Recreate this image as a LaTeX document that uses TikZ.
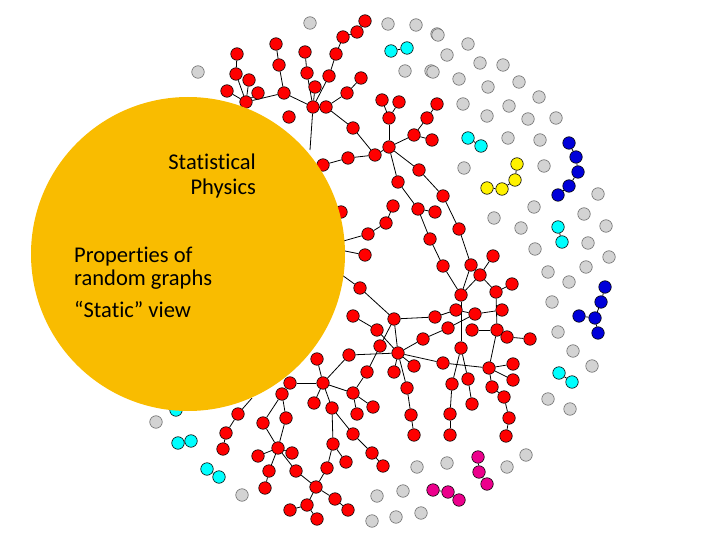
\documentclass[tikz,border=0pt]{standalone}
\usepackage{fontspec}
\setmainfont[Ligatures=NoCommon]{Carlito}
\usetikzlibrary{backgrounds}
\definecolor{gold}{HTML}{F9BC00}
\definecolor{grayfill}{HTML}{D3D3D3}
\definecolor{grayline}{HTML}{6A6A6A}
\definecolor{cyanv}{HTML}{00FFFF}
\tikzset{
  vtx/.style={circle,inner sep=0pt,minimum size=12.5pt,draw=black,line width=0.6pt},
  rn/.style={vtx,fill=red},
  gn/.style={vtx,fill=grayfill,draw=grayline},
  cn/.style={vtx,fill=cyanv},
  yn/.style={vtx,fill=yellow},
  bn/.style={vtx,fill=blue!85!black},
  mn/.style={vtx,fill=magenta},
  edge/.style={line width=0.8pt,black},
  lbl/.style={font=\fontsize{22.5}{24}\selectfont,inner sep=0pt}
}
\begin{document}
\begin{tikzpicture}[x=1pt,y=-1pt]
\useasboundingbox (0,0) rectangle (720,540);
% red nodes
\foreach \x/\y in {365/21,357/32,343/37,336/54,329/76,305/52,307/73,315/87,313/107,326/107,276/44,279/65,284/93,237/54,236/74,249/80,258/93,227/91,246/102,361/78,347/93,289/117,353/128,348/158,375/155,389/147,389/118,382/100,399/102,414/135,427/118,437/104,432/140,419/170,398/182,443/196,393/206,418/209,435/212,341/212,
386/223,368/234,365/255,430/239,459/229,443/266,471/265,493/256,480/275,461/295,496/292,512/284,360/288,353/316,394/319,435/317,456/310,475/314,502/310,448/328,472/330,497/330,507/337,530/339,377/330,380/346,398/353,423/339,461/348,443/363,489/368,513/364,513/380,349/355,317/359,367/372,394/372,414/366,323/383,353/393,407/388,452/384,468/379,492/387,504/397,
290/383,282/394,314/403,332/408,357/414,373/407,411/415,414/435,450/414,450/435,472/404,509/418,506/436,238/414,226/433,223/449,263/423,286/418,278/448,258/456,292/453,269/471,265/488,296/471,333/444,346/462,353/434,372/453,383/466,327/468,316/487,335/499,348/510,307/505,290/510,317/519,323/165}
  \node[rn] (r\x-\y) at (\x,\y) {};
% gray nodes
\foreach \x/\y in {310/23,388/24,416/25,437/34,198/72,405/71,431/71,438/35,468/44,447/55,433/72,480/63,503/65,459/79,488/87,519/82,539/97,463/104,509/106,487/116,528/119,556/118,508/138,540/140,464/168,544/166,598/194,534/207,494/218,521/228,584/214,606/226,535/249,588/243,609/257,548/272,586/267,569/282,552/302,558/332,573/351,592/366,548/399,570/409,156/422,242/495,417/467,447/463,507/467,526/455,377/496,403/491,372/521,396/517,421/513}
  \node[gn] (r\x-\y) at (\x,\y) {};
\foreach \x/\y in {391/51,407/48,468/138,481/146,558/227,562/242,559/373,572/382,178/443,191/441,207/469,219/477,176/410}
  \node[cn] (r\x-\y) at (\x,\y) {};
\foreach \x/\y in {517/164,515/180,502/189,487/188}
  \node[yn] (r\x-\y) at (\x,\y) {};
\foreach \x/\y in {569/143,576/157,578/172,569/186,558/195,605/287,601/302,595/318,579/316,598/333}
  \node[bn] (r\x-\y) at (\x,\y) {};
\foreach \x/\y in {478/457,479/472,487/484,433/490,448/492,459/500}
  \node[mn] (r\x-\y) at (\x,\y) {};
\coordinate (h1) at (310,150);
\coordinate (h2) at (335,270);
\coordinate (h3) at (340,250);
\coordinate (h4) at (340,242);
\coordinate (h5) at (252,398);
\begin{scope}[on background layer]
\foreach \a/\b in {365-21/357-32,357-32/343-37,343-37/336-54,336-54/329-76,329-76/313-107,305-52/307-73,307-73/313-107,315-87/313-107,313-107/326-107,313-107/284-93,284-93/279-65,279-65/276-44,284-93/246-102,246-102/227-91,246-102/258-93,246-102/249-80,246-102/236-74,236-74/237-54,326-107/347-93,347-93/361-78,326-107/353-128,353-128/375-155,375-155/389-147,375-155/348-158,348-158/323-165,389-147/389-118,389-118/382-100,389-118/399-102,389-147/414-135,414-135/427-118,427-118/437-104,414-135/432-140,389-147/419-170,419-170/443-196,389-147/398-182,398-182/418-209,418-209/435-212,393-206/386-223,386-223/368-234,
443-196/459-229,459-229/471-265,471-265/461-295,418-209/430-239,430-239/443-266,443-266/461-295,480-275/461-295,480-275/493-256,480-275/496-292,496-292/512-284,496-292/497-330,461-295/461-348,456-310/475-314,475-314/502-310,435-317/456-310,394-319/435-317,448-328/475-314,448-328/423-339,472-330/497-330,497-330/507-337,507-337/530-339,497-330/489-368,360-288/394-319,353-316/377-330,377-330/398-353,394-319/398-353,380-346/394-319,398-353/423-339,398-353/443-363,443-363/489-368,398-353/414-366,398-353/394-372,398-353/407-388,407-388/411-415,411-415/414-435,349-355/398-353,349-355/323-383,317-359/323-383,367-372/380-346,367-372/353-393,353-393/357-414,353-393/373-407,323-383/353-393,323-383/290-383,323-383/314-403,323-383/332-408,332-408/333-444,332-408/353-434,353-434/372-453,372-453/383-466,333-444/346-462,333-444/327-468,327-468/316-487,316-487/335-499,335-499/348-510,316-487/307-505,307-505/317-519,307-505/290-510,282-394/286-418,282-394/263-423,286-418/278-448,263-423/278-448,278-448/258-456,278-448/292-453,278-448/269-471,269-471/265-488,278-448/296-471,296-471/316-487,238-414/226-433,226-433/223-449,461-348/452-384,461-348/468-379,452-384/450-414,450-414/450-435,468-379/472-404,489-368/492-387,492-387/504-397,504-397/509-418,509-418/506-436,489-368/513-364,489-368/513-380,
391-51/407-48,468-138/481-146,558-227/562-242,559-373/572-382,178-443/191-441,207-469/219-477,517-164/515-180,515-180/502-189,502-189/487-188,569-143/576-157,576-157/578-172,578-172/569-186,569-186/558-195,605-287/601-302,601-302/595-318,579-316/595-318,595-318/598-333,478-457/479-472,479-472/487-484,433-490/448-492,448-492/459-500}
  \draw[edge] (r\a) -- (r\b);
\draw[edge] (r313-107) -- (h1);
\draw[edge] (r360-288) -- (h2);
\draw[edge] (r365-255) -- (h3);
\draw[edge] (r368-234) -- (h4);
\draw[edge] (r238-414) -- (h5);
\end{scope}
\node[circle,fill=gold,minimum size=314pt,inner sep=0pt] (disk) at (188,254) {};
\node[lbl,anchor=base east] (t1) at (256,170) {Statistical};
\node[lbl,anchor=base east] (t2) at (256,195) {Physics};
\node[lbl,anchor=base west] (t3) at (74,262) {Properties of};
\node[lbl,anchor=base west] (t4) at (74,285) {random graphs};
\node[lbl,anchor=base west] (t5) at (74,317) {“Static” view};
\end{tikzpicture}
\end{document}
